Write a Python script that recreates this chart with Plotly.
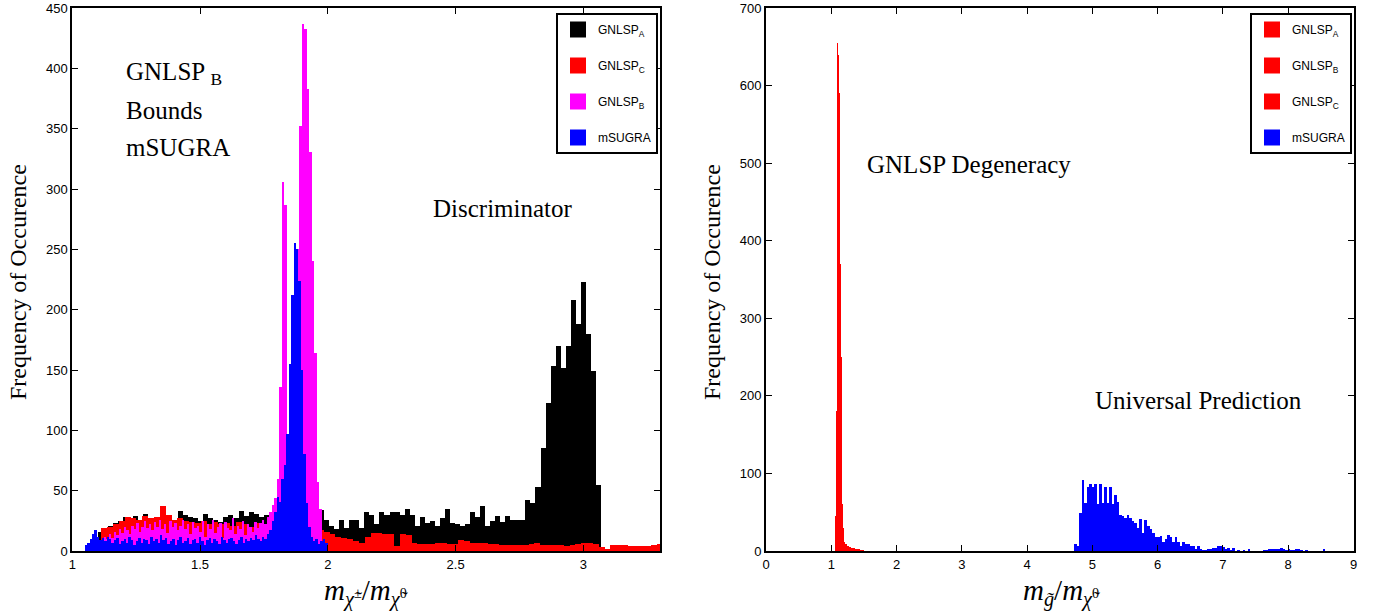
import numpy as np
import plotly.graph_objects as go

# ---- left panel: chargino / neutralino mass ratio ----
# counts per bin, each series has its own bin start and width (100-bin histograms)
gnlsp_a_start, gnlsp_a_width = 1.10, 0.0197
gnlsp_a_counts = [
    16, 19, 21, 23, 25, 28, 27, 29, 26, 31, 27, 25, 27, 29, 24, 26, 33, 30, 28, 27,
    25, 31, 27, 26, 24, 28, 30, 27, 33, 29, 32, 31, 28,
    30, 32, 29, 31, 33, 30, 28, 32, 29, 31, 27,
    34, 26, 21, 18, 26, 19, 26, 26, 19, 32, 30, 22, 32, 30, 32, 32, 30, 35, 30, 21,
    28, 23, 25, 21, 27, 35, 23, 22, 21, 22, 32, 28, 37, 21, 25, 29, 24, 29, 26, 26, 26,
    42, 40, 53, 85, 123, 153, 170, 152, 170, 208, 188, 223, 180, 149, 55,
]

gnlsp_c_start, gnlsp_c_width = 1.115, 0.0229
gnlsp_c_counts = [
    19, 20, 22, 25, 28, 27, 26, 29, 27, 28, 37, 30, 26, 27, 25, 24, 23, 25, 22, 24,
    22, 23, 21, 24, 22, 20, 23, 21, 20, 21, 19, 20, 18, 19, 18, 20, 19, 17,
    16, 14, 12, 11, 10, 8, 7, 12, 15, 15, 14, 14, 4, 14, 13, 7, 6, 6, 6, 7, 7, 6,
    6, 9, 8, 7, 7, 7, 6, 6, 5, 5, 5, 5, 5, 6, 7, 5, 5, 5, 5, 4, 5, 6, 7, 7, 6, 3,
    2, 5, 5, 5, 4, 4, 4, 4, 5, 6,
]

gnlsp_b_start, gnlsp_b_width = 1.115, 0.0098
gnlsp_b_counts = [
    8, 12, 10, 14, 11, 16, 13, 18, 15, 20, 17, 14, 21, 18, 23, 16, 20, 25, 19, 22,
    17, 24, 20, 26, 18, 22, 15, 25, 20, 23, 17, 21, 26, 18, 22, 14, 24, 19, 21, 16,
    25, 12, 22, 18, 26, 15, 20, 23, 11, 24, 19, 17, 27, 14, 21, 18, 25, 13, 22, 20,
    16, 24, 19, 23, 26, 22, 28, 32,
    38, 44, 60, 136, 306, 287, 97, 120, 150, 200, 250, 352, 437, 433, 383, 331, 240, 164, 57, 35,
]

msugra_l_start, msugra_l_width = 1.05, 0.0095
msugra_l_counts = [
    5, 7, 10, 14, 17,
    12, 9, 11, 8, 12, 10, 7, 9, 11, 6, 8, 10, 7, 12, 9, 5, 8, 11, 7, 10,
    9, 6, 12, 8, 10, 7, 13, 9, 11, 6, 8, 10, 5, 9, 12, 7, 8, 11, 6, 9,
    10, 7, 12, 8, 5, 9, 11, 7, 10, 8, 6, 12, 9, 7, 10, 11, 8, 6, 9, 12,
    7, 10, 8, 11, 9, 13, 10, 8, 12,
    10, 14, 17, 25, 32, 45, 41, 60, 71, 97, 155, 212, 255, 250, 224, 150, 80, 40, 20, 12,
    8, 10, 6, 8, 10, 7,
]

# ---- right panel: gluino / neutralino mass ratio ----
r_gnlsp_start, r_gnlsp_width = 1.07, 0.01
r_gnlsp_a_counts = [
    45, 180, 655, 640, 590, 500, 370, 250, 150, 60, 30, 15, 12, 10, 9, 9, 8, 7, 7, 6,
    5, 5, 5, 4, 4, 4, 4, 3, 4, 3, 3, 3, 3, 2, 2, 2, 2, 1, 1, 1, 1, 1,
]
r_gnlsp_b_counts = [30, 150, 560, 600, 540, 420, 300, 180, 90, 40, 20, 10, 8, 6, 5, 4, 3, 3, 2, 2]
r_gnlsp_c_counts = [20, 120, 480, 520, 460, 380, 260, 150, 70, 30, 15, 9, 7, 5, 4, 3, 2, 2, 1, 1]

r_msugra_start, r_msugra_width = 4.72, 0.0385
r_msugra_counts = [
    9, 7, 49, 91, 62, 83, 86, 83, 87, 61, 87, 62, 82, 62, 82, 61, 72, 63, 47, 45,
    42, 46, 43, 39, 36, 30, 41, 23, 40, 32, 28, 23, 18, 18, 19, 12, 16, 20, 18, 11,
    18, 12, 7, 11, 9, 9, 6, 7, 3, 7, 2, 1, 1, 2, 3, 4, 4, 6, 7, 5,
    3, 4, 1, 4, 0, 1, 0, 1, 0, 3, 0, 0, 0, 0, 0, 1, 1, 2, 2, 3,
    3, 2, 4, 2, 1, 2, 1, 1, 3, 3, 1, 0, 1, 0, 0, 0, 0, 0, 0, 2,
]

left_xticks = [1, 1.5, 2, 2.5, 3]
right_xticks = list(range(0, 10))

W, H = 1375, 612
SERIF = "Liberation Serif"
SANS = "Liberation Sans"


def centers(start, width, counts):
    return start + width * (np.arange(len(counts)) + 0.5)


def hist_bar(start, width, counts, color, xa, ya):
    return go.Bar(
        x=centers(start, width, counts), y=counts, width=width,
        marker=dict(color=color, line=dict(width=0)),
        xaxis=xa, yaxis=ya, showlegend=False, hoverinfo="x+y",
    )


def legend_key(name, color, xa, ya, legend):
    # empty trace, only there to give the legend a big colour block
    return go.Scatter(
        x=[None], y=[None], mode="markers", name=name,
        marker=dict(symbol="square", size=16, color=color),
        xaxis=xa, yaxis=ya, legend=legend, legendgroup=legend + name,
    )


fig = go.Figure()
# left: drawn back to front
fig.add_trace(hist_bar(gnlsp_a_start, gnlsp_a_width, gnlsp_a_counts, "#000000", "x", "y"))
fig.add_trace(hist_bar(gnlsp_c_start, gnlsp_c_width, gnlsp_c_counts, "#ff0000", "x", "y"))
fig.add_trace(hist_bar(gnlsp_b_start, gnlsp_b_width, gnlsp_b_counts, "#ff00ff", "x", "y"))
fig.add_trace(hist_bar(msugra_l_start, msugra_l_width, msugra_l_counts, "#0000ff", "x", "y"))
# right
fig.add_trace(hist_bar(r_gnlsp_start, r_gnlsp_width, r_gnlsp_a_counts, "#ff0000", "x2", "y2"))
fig.add_trace(hist_bar(r_gnlsp_start, r_gnlsp_width, r_gnlsp_b_counts, "#ff0000", "x2", "y2"))
fig.add_trace(hist_bar(r_gnlsp_start, r_gnlsp_width, r_gnlsp_c_counts, "#ff0000", "x2", "y2"))
fig.add_trace(hist_bar(r_msugra_start, r_msugra_width, r_msugra_counts, "#0000ff", "x2", "y2"))

for name, color in [("GNLSP<sub>A</sub>", "#000000"), ("GNLSP<sub>C</sub>", "#ff0000"),
                    ("GNLSP<sub>B</sub>", "#ff00ff"), ("mSUGRA", "#0000ff")]:
    fig.add_trace(legend_key(name, color, "x", "y", "legend"))
for name, color in [("GNLSP<sub>A</sub>", "#ff0000"), ("GNLSP<sub>B</sub>", "#ff0000"),
                    ("GNLSP<sub>C</sub>", "#ff0000"), ("mSUGRA", "#0000ff")]:
    fig.add_trace(legend_key(name, color, "x2", "y2", "legend2"))

axis_common = dict(
    showline=True, linecolor="black", linewidth=2, mirror="ticks",
    ticks="inside", ticklen=6, tickwidth=1.3, tickcolor="black",
    showgrid=False, zeroline=False, automargin=False,
    tickfont=dict(family=SANS, size=13, color="black"),
)

y_bottom = 1 - 551 / H
y_top = 1 - 8 / H

legend_common = dict(
    y=1 - 13 / H, yanchor="top", xanchor="right",
    bgcolor="white", bordercolor="black", borderwidth=2,
    font=dict(family=SANS, size=12, color="black"),
    tracegroupgap=17, itemsizing="trace", traceorder="grouped",
    itemwidth=30,
)

fig.update_layout(
    width=W, height=H, autosize=False,
    margin=dict(l=0, r=0, t=0, b=0, autoexpand=False),
    paper_bgcolor="white", plot_bgcolor="white",
    barmode="overlay", bargap=0,
    xaxis=dict(domain=[72.3 / W, 660 / W], range=[1, 3.3], tickvals=left_xticks,
               ticktext=[str(t) for t in left_xticks], anchor="y", **axis_common),
    yaxis=dict(domain=[y_bottom, y_top], range=[0, 450], dtick=50, anchor="x", **axis_common),
    xaxis2=dict(domain=[766 / W, 1353.5 / W], range=[0, 9], tickvals=right_xticks, anchor="y2", **axis_common),
    yaxis2=dict(domain=[y_bottom, y_top], range=[0, 700], dtick=100, anchor="x2", **axis_common),
    legend=dict(x=658 / W, **legend_common),
    legend2=dict(x=1352 / W, **legend_common),
)


def label(text, px, py, size=25, anchor="left", angle=0):
    fig.add_annotation(text=text, x=px / W, y=1 - py / H, xref="paper", yref="paper",
                       xanchor=anchor, yanchor="middle", showarrow=False, textangle=angle,
                       font=dict(family=SERIF, size=size, color="black"))


label("GNLSP <sub>B</sub>", 124, 73)
label("Bounds", 124, 110)
label("mSUGRA", 124, 147)
label("Discriminator", 431, 208)
label("GNLSP Degeneracy", 865, 165)
label("Universal Prediction", 1093, 400)

label("Frequency of Occurence", 18, 282, size=24, anchor="center", angle=-90)
label("Frequency of Occurence", 712, 282, size=24, anchor="center", angle=-90)
label("<i>m</i><sub><i>χ̃</i><sup>±</sup></sub>/<i>m</i><sub><i>χ̃</i><sup>0</sup></sub>", 366, 592, size=29, anchor="center")
label("<i>m</i><sub><i>g̃</i></sub>/<i>m</i><sub><i>χ̃</i><sup>0</sup></sub>", 1062, 592, size=29, anchor="center")

# the page body has a default 8px margin; drop it so the figure fills the window
fig.write_html("out.html", config={"displayModeBar": False},
               post_script="document.body.style.margin='0';")
